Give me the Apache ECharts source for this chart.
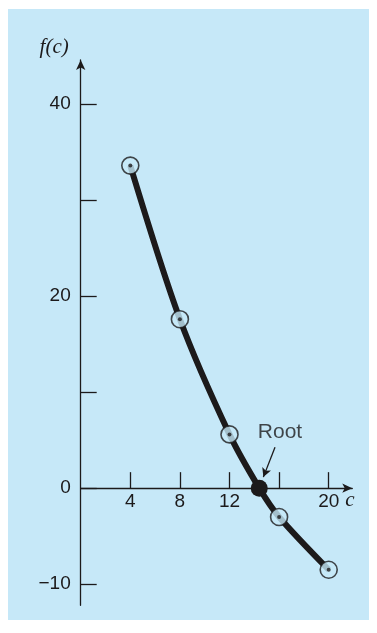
<!DOCTYPE html>
<html>
<head>
<meta charset="utf-8">
<script src="https://cdn.jsdelivr.net/npm/echarts@6/dist/echarts.min.js"></script>
<style>
html,body{margin:0;padding:0;background:#fff;}
#chart{width:377px;height:633px;}
</style>
</head>
<body>
<div id="chart"></div>
<script>
// ---- data ----
const cValues = [4, 8, 12, 16, 20];
const fValues = [33.6, 17.6, 5.6, -3.0, -8.5];
const rootC = 14.4;
const rootF = 0;
const yTickValues = [-10, 0, 10, 20, 30, 40];
const yLabelValues = [-10, 0, 20, 40];
const xTickValues = [4, 8, 12, 16, 20];
const xLabelValues = [4, 8, 12, 20];
const rootLabelText = 'Root';
const rootLabelAt = [16.07, 5.78];
const rootArrowFrom = [15.67, 4.27];
const rootArrowTo = [14.73, 1.15];

// ---- build ----
const pts = cValues.map((c, i) => [c, fValues[i]]);
const curve = pts.concat([[rootC, rootF]]).sort((a, b) => a[0] - b[0]);

const ink = '#1c1a1b';
const bg = '#c6e8f8';
const xMin = 0, xMax = 21.9, yMin = -12.2, yMax = 44.6;
const pxX = 12.4, pxY = 9.6;

const chart = echarts.init(document.getElementById('chart'), null, {renderer: 'canvas'});
const minus = v => String(v).replace('-', '\u2212');

chart.setOption({
  backgroundColor: '#ffffff',
  animation: false,
  graphic: [{
    type: 'rect', z: -10, silent: true,
    shape: {x: 8, y: 9, width: 361, height: 611},
    style: {fill: bg}
  }],
  grid: {
    left: 80.7, top: 60,
    width: (xMax - xMin) * pxX,
    height: (yMax - yMin) * pxY
  },
  xAxis: {
    type: 'value', min: xMin, max: xMax,
    offset: -(0 - yMin) * pxY,
    splitLine: {show: false},
    axisLine: {onZero: false, lineStyle: {color: ink, width: 1.3},
      symbol: ['none', 'arrow'], symbolSize: [7, 10]},
    axisTick: {show: true, inside: true, length: 16, customValues: xTickValues,
      lineStyle: {color: ink, width: 1.3}},
    axisLabel: {customValues: xLabelValues, margin: 4, color: ink,
      fontFamily: 'Liberation Sans', fontSize: 19, formatter: minus},
    name: 'c', nameLocation: 'end', nameGap: -10,
    nameTextStyle: {fontFamily: 'Liberation Serif', fontStyle: 'italic', fontSize: 21,
      color: ink, verticalAlign: 'top', padding: [2, 0, 0, 0]}
  },
  yAxis: {
    type: 'value', min: yMin, max: yMax,
    splitLine: {show: false},
    axisLine: {onZero: false, lineStyle: {color: ink, width: 1.3},
      symbol: ['none', 'arrow'], symbolSize: [7, 10]},
    axisTick: {show: true, inside: true, length: 16, customValues: yTickValues,
      lineStyle: {color: ink, width: 1.3}},
    axisLabel: {customValues: yLabelValues, margin: 10, color: ink,
      fontFamily: 'Liberation Sans', fontSize: 19, formatter: minus},
    name: 'f(c)', nameLocation: 'end', nameGap: 2,
    nameTextStyle: {fontFamily: 'Liberation Serif', fontStyle: 'italic', fontSize: 21,
      color: ink, align: 'right', padding: [0, 12, 0, 0]}
  },
  series: [
    {
      type: 'line', data: curve, smooth: 0.3,
      showSymbol: false, z: 2,
      lineStyle: {color: ink, width: 6},
      markLine: {
        silent: true, symbol: ['none', 'arrow'], symbolSize: [7, 9],
        lineStyle: {color: ink, width: 1.3, type: 'solid'},
        label: {show: false},
        data: [[{coord: rootArrowFrom}, {coord: rootArrowTo}]]
      }
    },
    {
      type: 'scatter', data: pts, symbol: 'circle', symbolSize: 17, z: 3,
      itemStyle: {color: bg, borderColor: ink, borderWidth: 1.6}
    },
    {
      type: 'scatter', data: pts, symbol: 'circle', symbolSize: 4, z: 4,
      itemStyle: {color: ink}
    },
    {
      type: 'scatter', data: [[rootC, rootF]], symbol: 'circle', symbolSize: 17, z: 4,
      itemStyle: {color: ink, opacity: 1}
    },
    {
      type: 'scatter', data: [rootLabelAt], symbolSize: 1, z: 5,
      itemStyle: {color: 'rgba(0,0,0,0)'},
      label: {show: true, position: 'inside', formatter: rootLabelText,
        fontFamily: 'Liberation Sans', fontSize: 21, color: ink,
        textBorderWidth: 0}
    }
  ]
});
</script>
</body>
</html>
